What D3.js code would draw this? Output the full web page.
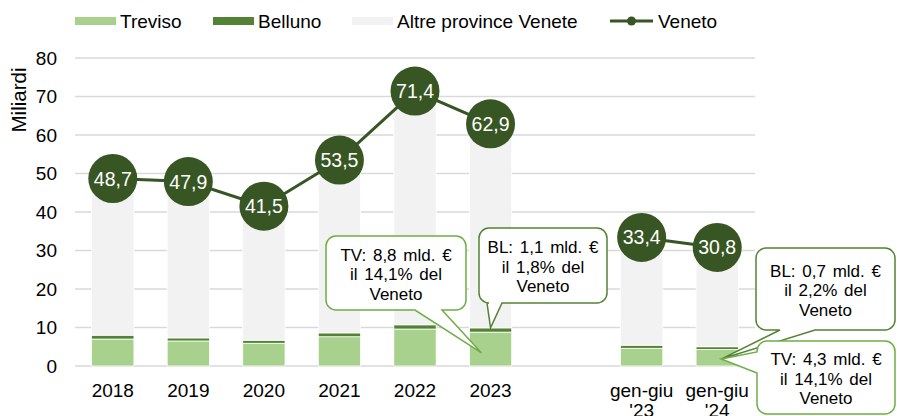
<html>
<head>
<meta charset="utf-8">
<script src="https://cdn.jsdelivr.net/npm/d3@7/dist/d3.min.js"></script>
<style>
  body { margin: 0; background: #fff; }
  text { font-family: "Liberation Sans", Arial, sans-serif; fill: #000; }
</style>
</head>
<body>
<div id="chart"></div>
<script>
// data (miliardi di euro)
var categories = ["2018", "2019", "2020", "2021", "2022", "2023", "", "gen-giu '23", "gen-giu '24"];
var treviso = [7.0, 6.5, 5.9, 7.6, 9.6, 8.8, null, 4.6, 4.3];
var belluno = [1.0, 0.8, 0.8, 1.0, 1.1, 1.1, null, 0.8, 0.7];
var veneto = [48.7, 47.9, 41.5, 53.5, 71.4, 62.9, null, 33.4, 30.8];
var yTicks = [0, 10, 20, 30, 40, 50, 60, 70, 80];
var legendLabels = ["Treviso", "Belluno", "Altre province Venete", "Veneto"];
var notes = [
  ["TV: 8,8 mld. €", "il 14,1% del", "Veneto"],
  ["BL: 1,1 mld. €", "il 1,8% del", "Veneto"],
  ["BL: 0,7 mld. €", "il 2,2% del", "Veneto"],
  ["TV: 4,3 mld. €", "il 14,1% del", "Veneto"]
];

var W = 897, H = 416;
var colTV = "#a9d18e", colBL = "#548235", colAltre = "#f2f2f2", colVeneto = "#375623";

var svg = d3.select("#chart").append("svg")
    .attr("width", W)
    .attr("height", H);

var x = d3.scaleBand().domain(categories).range([75, 755]).paddingInner(0.44).paddingOuter(0.22);
var y = d3.scaleLinear().domain([0, 80]).range([366, 58]);
var fmt = function (v) { return d3.format(".1f")(v).replace(".", ","); };
var cx = function (c) { return x(c) + x.bandwidth() / 2; };

// gridlines
svg.append("g").selectAll("line")
    .data(yTicks)
    .enter().append("line")
      .attr("x1", 75).attr("x2", 755)
      .attr("y1", (d) => y(d)).attr("y2", (d) => y(d))
      .attr("stroke", "#d9d9d9")
      .attr("stroke-width", 1.5);

// y tick labels
svg.append("g").selectAll("text")
    .data(yTicks)
    .enter().append("text")
      .attr("x", 57)
      .attr("y", (d) => y(d))
      .attr("dy", "0.36em")
      .style("text-anchor", "end")
      .style("font-size", "19px")
      .text((d) => d);

svg.append("text")
    .attr("transform", "translate(26,100) rotate(-90)")
    .style("text-anchor", "middle")
    .style("font-size", "20.5px")
    .text("Miliardi");

// stacked bars
var rows = categories.map(function (c, i) {
  return { cat: c, tv: treviso[i], bl: belluno[i], tot: veneto[i] };
}).filter((d) => d.tot != null);

var segs = [];
rows.forEach(function (d) {
  segs.push({ cat: d.cat, y0: 0, y1: d.tv, fill: colTV });
  segs.push({ cat: d.cat, y0: d.tv, y1: d.tv + d.bl, fill: colBL });
  segs.push({ cat: d.cat, y0: d.tv + d.bl, y1: d.tot, fill: colAltre });
});

svg.append("g").selectAll("rect")
    .data(segs)
    .enter().append("rect")
      .attr("x", (d) => x(d.cat))
      .attr("width", x.bandwidth())
      .attr("y", (d) => y(d.y1))
      .attr("height", (d) => y(d.y0) - y(d.y1))
      .attr("fill", (d) => d.fill)
      .attr("stroke", "#fff")
      .attr("stroke-width", 0.8);

// x labels (second line is cut by the bottom edge, as in the original)
var xl = svg.append("g").selectAll("text")
    .data(categories.filter((c) => c != ""))
    .enter().append("text")
      .attr("x", (d) => cx(d))
      .attr("y", 397)
      .style("text-anchor", "middle")
      .style("font-size", "19px");
xl.each(function (d) {
  var parts = d.split(" ");
  var t = d3.select(this);
  parts.forEach(function (p, i) {
    t.append("tspan").attr("x", cx(d)).attr("dy", i == 0 ? 0 : 20).text(p);
  });
});

// Veneto line
var pts = categories.map((c, i) => ({ cat: c, v: veneto[i] }));
var line = d3.line()
    .defined((d) => d.v != null)
    .x((d) => cx(d.cat))
    .y((d) => y(d.v));

svg.append("path")
    .datum(pts)
    .attr("d", line)
    .attr("fill", "none")
    .attr("stroke", colVeneto)
    .attr("stroke-width", 3);

var dots = svg.append("g").selectAll("g")
    .data(pts.filter((d) => d.v != null))
    .enter().append("g")
      .attr("transform", (d) => "translate(" + cx(d.cat) + "," + y(d.v) + ")");
dots.append("circle").attr("r", 24.5).attr("fill", colVeneto);
dots.append("text")
    .attr("dy", "0.36em")
    .style("text-anchor", "middle")
    .style("font-size", "19.5px")
    .style("fill", "#fff")
    .text((d) => fmt(d.v));

// callouts
function calloutPath(b, t) {
  var r = 10, p = "M" + (b.x0 + r) + "," + b.y0 + "H" + (b.x1 - r) +
    "A" + r + "," + r + " 0 0 1 " + b.x1 + "," + (b.y0 + r) +
    "V" + (b.y1 - r) +
    "A" + r + "," + r + " 0 0 1 " + (b.x1 - r) + "," + b.y1;
  if (t.side == "bottom") p += "H" + t.b + "L" + t.px + "," + t.py + "L" + t.a + "," + b.y1;
  p += "H" + (b.x0 + r) + "A" + r + "," + r + " 0 0 1 " + b.x0 + "," + (b.y1 - r);
  if (t.side == "left") p += "V" + t.b + "L" + t.px + "," + t.py + "L" + b.x0 + "," + t.a;
  p += "V" + (b.y0 + r) + "A" + r + "," + r + " 0 0 1 " + (b.x0 + r) + "," + b.y0 + "Z";
  return p;
}

var callouts = [
  { box: { x0: 326, y0: 236, x1: 466, y1: 310 }, tail: { side: "bottom", a: 415, b: 442, px: cx("2023") - 9, py: y(3.4) }, color: "#70ad47" },
  { box: { x0: 479, y0: 228, x1: 607, y1: 303 }, tail: { side: "bottom", a: 487, b: 502, px: cx("2023"), py: y(treviso[5] + belluno[5]) }, color: "#548235" },
  { box: { x0: 756, y0: 248, x1: 895, y1: 330 }, tail: { side: "bottom", a: 780, b: 815, px: cx("gen-giu '24") + 4, py: y(1.8) }, color: "#548235" },
  { box: { x0: 757, y0: 341, x1: 895, y1: 414 }, tail: { side: "left", a: 352, b: 373, px: cx("gen-giu '24") + 4, py: y(1.8) }, color: "#70ad47" }
];

callouts.forEach(function (c, i) {
  var g = svg.append("g");
  g.append("path")
      .attr("d", calloutPath(c.box, c.tail))
      .attr("fill", "#fff")
      .attr("stroke", c.color)
      .attr("stroke-width", 1.5);
  var mx = (c.box.x0 + c.box.x1) / 2, my = (c.box.y0 + c.box.y1) / 2;
  g.selectAll("text")
      .data(notes[i])
      .enter().append("text")
        .attr("x", mx)
        .attr("y", (d, j) => my + 7 + (j - 1) * 19.5)
        .style("text-anchor", "middle")
        .style("font-size", "17px")
        .style("word-spacing", "2px")
        .text((d) => d);
});

// legend
var lg = svg.append("g");
var swX = [75, 213, 352];
[colTV, colBL, colAltre].forEach(function (col, i) {
  lg.append("rect").attr("x", swX[i]).attr("y", 17).attr("width", 41).attr("height", 8).attr("fill", col);
  lg.append("text").attr("x", swX[i] + 45).attr("y", 28).style("font-size", "19px").text(legendLabels[i]);
});
lg.append("line").attr("x1", 610).attr("x2", 653).attr("y1", 21).attr("y2", 21)
    .attr("stroke", colVeneto).attr("stroke-width", 3);
lg.append("circle").attr("cx", 631.5).attr("cy", 21).attr("r", 4.5).attr("fill", colVeneto);
lg.append("text").attr("x", 658).attr("y", 28).style("font-size", "19px").text(legendLabels[3]);
</script>
</body>
</html>
